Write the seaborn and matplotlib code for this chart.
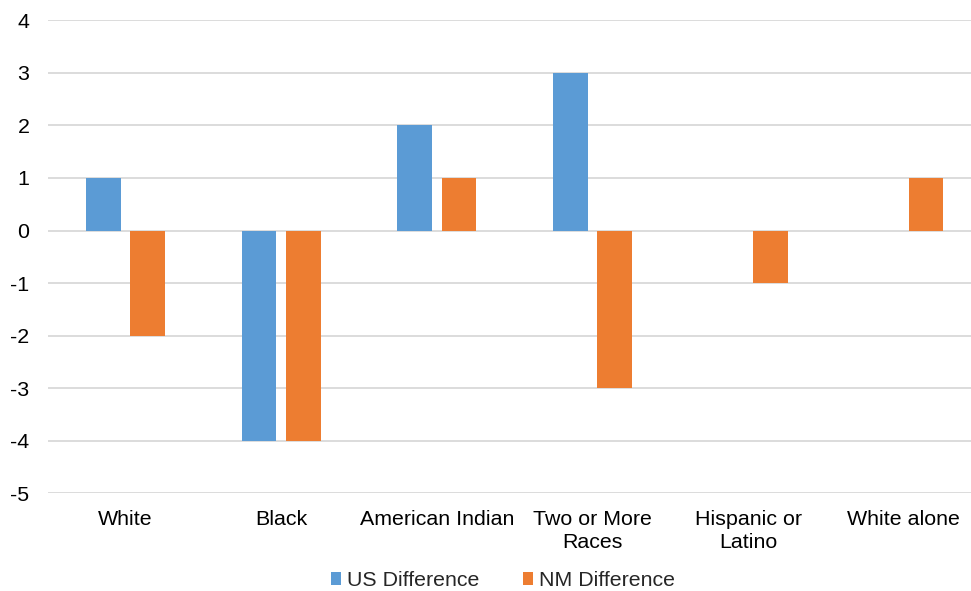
import matplotlib
matplotlib.use("Agg")
import matplotlib.pyplot as plt
from matplotlib.patches import Patch
import seaborn as sns
import pandas as pd

categories = ["White", "Black", "American Indian", "Two or More\nRaces", "Hispanic or\nLatino", "White alone"]
us_difference = [1, -4, 2, 3, 0, 0]
nm_difference = [-2, -4, 1, -3, -1, 1]
series_names = ["US Difference", "NM Difference"]
colors = ["#5B9BD5", "#ED7D31"]
y_ticks = [-5, -4, -3, -2, -1, 0, 1, 2, 3, 4]

df = pd.DataFrame({
    "category": categories * 2,
    "value": us_difference + nm_difference,
    "series": [series_names[0]] * len(categories) + [series_names[1]] * len(categories),
})

sns.set_theme(style="white")
plt.rcParams["font.family"] = ["Liberation Sans", "DejaVu Sans"]

fig = plt.figure(figsize=(9.71, 5.91), dpi=100)
# plot area runs slightly past the right edge of the canvas
ax = fig.add_axes([0.049, 0.1655, 0.962, 0.8])

sns.barplot(data=df, x="category", y="value", hue="series", order=categories,
            hue_order=series_names, palette=colors, width=0.568, gap=0.215,
            saturation=1, ax=ax, legend=False, errorbar=None, linewidth=0)

ax.set_ylim(-5, 4)
ax.set_xlim(-0.5, len(categories) - 0.5)
ax.set_yticks(y_ticks)
ax.set_yticklabels([str(t) for t in y_ticks])
ax.yaxis.grid(True, color="#D9D9D9", linewidth=1.3)
ax.set_axisbelow(True)
for s in ax.spines.values():
    s.set_visible(False)
ax.tick_params(axis="both", length=0, labelsize=15.4, colors="#000000")
ax.tick_params(axis="x", pad=12)
ax.tick_params(axis="y", pad=13)
for lbl in ax.get_xticklabels():
    lbl.set_linespacing(1.3)
ax.set_xlabel("")
ax.set_ylabel("")

handles = [Patch(facecolor=c, edgecolor="none") for c in colors]
fig.legend(handles, series_names, loc="center", bbox_to_anchor=(0.518, 0.018),
           ncol=2, frameon=False, fontsize=15.4, handlelength=0.5, handleheight=0.55,
           columnspacing=2.0, handletextpad=0.29, borderpad=0)

fig.savefig("out.png", dpi=100)
